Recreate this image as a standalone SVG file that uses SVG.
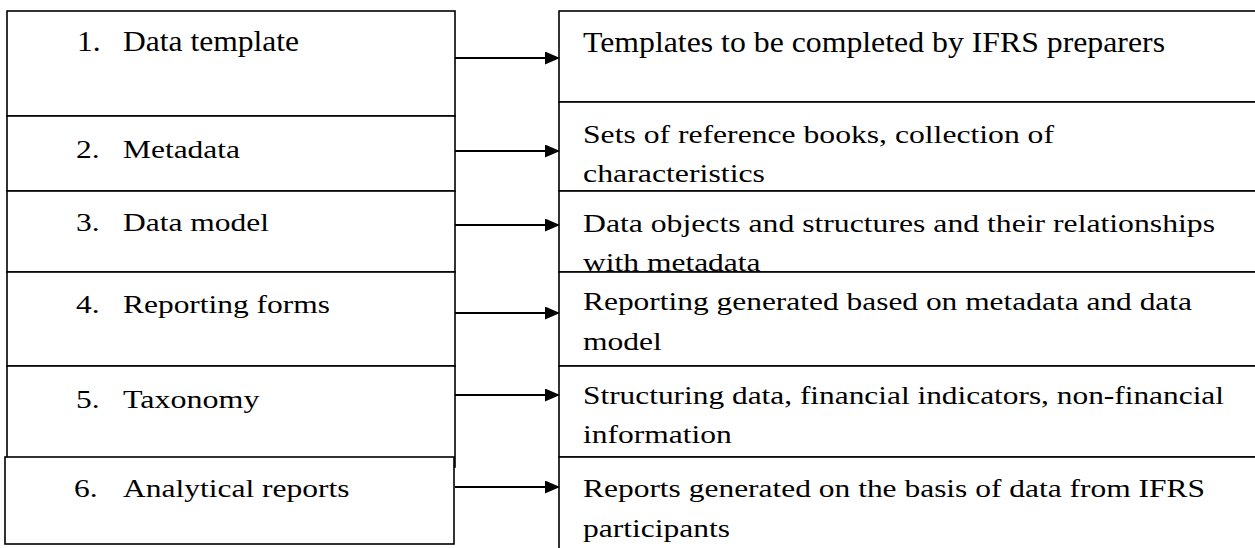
<svg xmlns="http://www.w3.org/2000/svg" width="1255" height="548" viewBox="0 0 1255 548">
<style>
.box{fill:#fff;stroke:#000;stroke-width:1.6}
.t{font-size:29px;fill:#000}
.c{stroke:#000;stroke-width:2;fill:none}
</style>
<defs>
<marker id="ah" markerUnits="userSpaceOnUse" markerWidth="15" markerHeight="13" refX="2" refY="6.5" orient="auto">
<path d="M0,0 L15,6.5 L0,13 z" fill="#000"/>
</marker>
</defs>
<rect width="1255" height="548" fill="#fff"/>
<g id="left-nodes" font-family="Liberation Serif, Times New Roman, serif">
<g id="n1"><rect class="box" x="7" y="11" width="448" height="105"/><text class="t" x="77" y="51" textLength="23.6" lengthAdjust="spacingAndGlyphs">1.</text><text class="t" x="123" y="51" textLength="176" lengthAdjust="spacingAndGlyphs">Data template</text></g>
<g id="n2"><rect class="box" x="7" y="116" width="448" height="75"/><g transform="translate(0,158) scale(1,0.88)"><text class="t" x="76" y="0" textLength="23.6" lengthAdjust="spacingAndGlyphs">2.</text><text class="t" x="123" y="0" textLength="117" lengthAdjust="spacingAndGlyphs">Metadata</text></g></g>
<g id="n3"><rect class="box" x="7" y="191" width="448" height="81"/><g transform="translate(0,231) scale(1,0.88)"><text class="t" x="76" y="0" textLength="23.6" lengthAdjust="spacingAndGlyphs">3.</text><text class="t" x="123" y="0" textLength="146" lengthAdjust="spacingAndGlyphs">Data model</text></g></g>
<g id="n4"><rect class="box" x="7" y="272" width="448" height="94"/><g transform="translate(0,313) scale(1,0.88)"><text class="t" x="76" y="0" textLength="23.6" lengthAdjust="spacingAndGlyphs">4.</text><text class="t" x="123" y="0" textLength="207" lengthAdjust="spacingAndGlyphs">Reporting forms</text></g></g>
<g id="n5"><rect class="box" x="7" y="366" width="448" height="101"/><g transform="translate(0,408) scale(1,0.88)"><text class="t" x="76" y="0" textLength="23.6" lengthAdjust="spacingAndGlyphs">5.</text><text class="t" x="123" y="0" textLength="136.5" lengthAdjust="spacingAndGlyphs">Taxonomy</text></g></g>
<g id="n6"><rect class="box" x="5" y="457" width="449" height="87"/><g transform="translate(0,497) scale(1,0.88)"><text class="t" x="74" y="0" textLength="23.6" lengthAdjust="spacingAndGlyphs">6.</text><text class="t" x="123" y="0" textLength="226.6" lengthAdjust="spacingAndGlyphs">Analytical reports</text></g></g>
</g>
<g id="right-nodes" font-family="Liberation Serif, Times New Roman, serif">
<g id="d1"><rect class="box" x="559" y="11" width="720" height="91"/><text class="t" x="583" y="52" textLength="582" lengthAdjust="spacingAndGlyphs">Templates to be completed by IFRS preparers</text></g>
<g id="d2"><rect class="box" x="559" y="102" width="720" height="89"/><g transform="translate(583,143) scale(1,0.88)"><text class="t" x="0" y="0" textLength="471" lengthAdjust="spacingAndGlyphs">Sets of reference books, collection of</text><text class="t" x="0" y="44.3" textLength="182" lengthAdjust="spacingAndGlyphs">characteristics</text></g></g>
<g id="d3"><rect class="box" x="559" y="191" width="720" height="81"/><g transform="translate(583,232) scale(1,0.88)"><text class="t" x="0" y="0" textLength="632" lengthAdjust="spacingAndGlyphs">Data objects and structures and their relationships</text><text class="t" x="0" y="44.3" textLength="177.6" lengthAdjust="spacingAndGlyphs">with metadata</text></g></g>
<g id="d4"><rect class="box" x="559" y="272" width="720" height="94"/><g transform="translate(583,310) scale(1,0.88)"><text class="t" x="0" y="0" textLength="609" lengthAdjust="spacingAndGlyphs">Reporting generated based on metadata and data</text><text class="t" x="0" y="45.5" textLength="78.8" lengthAdjust="spacingAndGlyphs">model</text></g></g>
<g id="d5"><rect class="box" x="559" y="366" width="720" height="91"/><g transform="translate(583,404) scale(1,0.88)"><text class="t" x="0" y="0" textLength="641" lengthAdjust="spacingAndGlyphs">Structuring data, financial indicators, non-financial</text><text class="t" x="0" y="44.3" textLength="148.7" lengthAdjust="spacingAndGlyphs">information</text></g></g>
<g id="d6"><rect class="box" x="559" y="457" width="720" height="110"/><g transform="translate(583,497) scale(1,0.88)"><text class="t" x="0" y="0" textLength="622" lengthAdjust="spacingAndGlyphs">Reports generated on the basis of data from IFRS</text><text class="t" x="0" y="45.5" textLength="147" lengthAdjust="spacingAndGlyphs">participants</text></g></g>
</g>
<g id="connectors">
<line class="c" x1="455" y1="58" x2="547" y2="58" marker-end="url(#ah)"/>
<line class="c" x1="455" y1="151" x2="547" y2="151" marker-end="url(#ah)"/>
<line class="c" x1="455" y1="225" x2="547" y2="225" marker-end="url(#ah)"/>
<line class="c" x1="455" y1="313" x2="547" y2="313" marker-end="url(#ah)"/>
<line class="c" x1="455" y1="395" x2="547" y2="395" marker-end="url(#ah)"/>
<line class="c" x1="455" y1="487" x2="547" y2="487" marker-end="url(#ah)"/>
</g>
</svg>
